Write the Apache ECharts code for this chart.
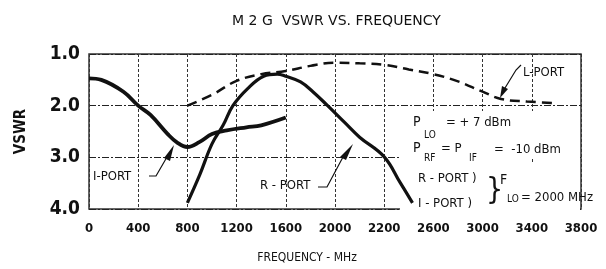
<!DOCTYPE html>
<html>
<head>
<meta charset="utf-8">
<script src="https://cdn.jsdelivr.net/npm/echarts@6/dist/echarts.min.js"></script>
<style>
  html, body { margin: 0; padding: 0; background: #fff; }
  #chart { width: 606px; height: 269px; }
</style>
</head>
<body>
<div id="chart"></div>
<script>
// tick labels as printed on the original (grid steps are 400 MHz)
var xTickLabels = ['0', '400', '800', '1200', '1600', '2000', '2200', '2600', '3000', '3400', '3800'];

// I-PORT (solid)
var iPortMhz  = [0, 100, 280, 400, 500, 640, 720, 800, 900, 1000, 1120, 1280, 1400, 1600];
var iPortVswr = [1.47, 1.5, 1.73, 2.0, 2.18, 2.55, 2.72, 2.8, 2.7, 2.55, 2.48, 2.42, 2.38, 2.23];

// R-PORT (solid)
var rPortMhz  = [800, 900, 1000, 1090, 1170, 1290, 1420, 1530, 1600, 1720, 1820, 1940, 2080, 2200, 2400, 2530, 2630];
var rPortVswr = [3.88, 3.34, 2.74, 2.38, 2.0, 1.67, 1.43, 1.39, 1.43, 1.54, 1.73, 2.0, 2.33, 2.61, 2.99, 3.49, 3.88];

// L-PORT (dashed)
var lPortMhz  = [800, 1000, 1200, 1400, 1600, 1800, 2000, 2200, 2400, 2600, 2800, 3000, 3200, 3350, 3560, 3800];
var lPortVswr = [2.0, 1.79, 1.52, 1.39, 1.33, 1.23, 1.17, 1.18, 1.21, 1.3, 1.39, 1.53, 1.73, 1.87, 1.92, 1.95];

var ink = '#111';
var cond = '"DejaVu Sans Condensed", "DejaVu Sans", sans-serif';

function pairs(xs, ys) {
    return xs.map(function (x, i) { return [x, ys[i]]; });
}

function txt(x, y, s, size, extra) {
    var style = {
        x: x, y: y, text: s,
        font: (extra || '') + ' ' + size + 'px ' + cond,
        fill: ink,
        verticalAlign: 'middle'
    };
    return { type: 'text', z: 100, style: style };
}

var dom = document.getElementById('chart');
var myChart = echarts.init(dom, null, { renderer: 'canvas' });

var option = {
    animation: false,
    backgroundColor: '#fff',
    title: {
        text: 'M 2 G  VSWR VS. FREQUENCY',
        left: 227,
        top: 9,
        textStyle: { fontFamily: 'DejaVu Sans', fontSize: 14, fontWeight: 'normal', color: ink }
    },
    grid: {
        left: 89, right: 25, top: 54, bottom: 55,
        show: true, borderColor: '#333', borderWidth: 1.5
    },
    xAxis: {
        type: 'value',
        min: 0, max: 4000, interval: 400,
        name: 'FREQUENCY - MHz',
        nameLocation: 'middle',
        nameGap: 43,
        nameTextStyle: { fontFamily: cond, fontSize: 12, color: ink, padding: [0, 56, 0, 0] },
        axisLine: { show: false },
        axisTick: { show: false },
        axisLabel: {
            margin: 13,
            fontFamily: cond, fontSize: 13, fontWeight: 'bold', color: ink,
            showMinLabel: true, showMaxLabel: true,
            formatter: function (v) { return xTickLabels[Math.round(v / 400)]; }
        },
        splitLine: { show: true, lineStyle: { color: '#333', width: 1, type: [3, 2] } }
    },
    yAxis: {
        type: 'value',
        inverse: true,
        min: 1, max: 4, interval: 1,
        name: 'VSWR',
        nameLocation: 'middle',
        nameRotate: 90,
        nameGap: 60,
        nameTextStyle: { fontFamily: cond, fontSize: 15, fontWeight: 'bold', color: ink },
        axisLine: { show: false },
        axisTick: { show: false },
        axisLabel: {
            margin: 9,
            fontFamily: cond, fontSize: 19, fontWeight: 'bold', color: ink,
            formatter: function (v) { return v.toFixed(1); }
        },
        splitLine: { show: true, lineStyle: { color: '#222', width: 1, type: [7, 2, 2, 2] } }
    },
    series: [
        {
            name: 'I-PORT', type: 'line', smooth: 0.4, symbol: 'none', z: 3,
            data: pairs(iPortMhz, iPortVswr),
            lineStyle: { color: ink, width: 3.8 }
        },
        {
            name: 'R-PORT', type: 'line', smooth: 0.4, symbol: 'none', z: 3,
            data: pairs(rPortMhz, rPortVswr),
            lineStyle: { color: ink, width: 3.2 }
        },
        {
            name: 'L-PORT', type: 'line', smooth: 0.4, symbol: 'none', z: 3,
            data: pairs(lPortMhz, lPortVswr),
            lineStyle: { color: ink, width: 2.5, type: [10, 6] }
        }
    ],
    graphic: [
        // white patch behind the conditions text
        { type: 'rect', z: 1, shape: { x: 400, y: 111, width: 97, height: 102 }, style: { fill: '#fff' } },
        { type: 'rect', z: 1, shape: { x: 497, y: 111, width: 83, height: 47 }, style: { fill: '#fff' } },
        { type: 'rect', z: 1, shape: { x: 497, y: 162, width: 83, height: 51 }, style: { fill: '#fff' } },

        // curve labels
        txt(93, 177, 'I-PORT', 13),
        txt(260, 186, 'R - PORT', 13),
        txt(523, 73, 'L-PORT', 13),

        // leaders
        { type: 'polyline', z: 100, shape: { points: [[149, 176], [156, 176], [167, 157]] }, style: { stroke: ink, lineWidth: 1.2, fill: null } },
        { type: 'polygon', z: 100, shape: { points: [[164, 158], [170, 161], [174, 145]] }, style: { fill: ink } },
        { type: 'polyline', z: 100, shape: { points: [[318, 187], [327, 187], [343, 157]] }, style: { stroke: ink, lineWidth: 1.2, fill: null } },
        { type: 'polygon', z: 100, shape: { points: [[340, 157], [346, 160], [353, 144]] }, style: { fill: ink } },
        { type: 'polyline', z: 100, shape: { points: [[521, 65], [516, 70], [505, 88]] }, style: { stroke: ink, lineWidth: 1.2, fill: null } },
        { type: 'polygon', z: 100, shape: { points: [[502, 86], [508, 89], [500, 98]] }, style: { fill: ink } },

        // test conditions
        txt(413, 122, 'P', 14),
        txt(424, 135, 'LO', 10),
        txt(446, 123, '= + 7 dBm', 13),
        txt(413, 148, 'P', 14),
        txt(424, 158, 'RF', 10),
        txt(441, 149, '= P', 13),
        txt(469, 158, 'IF', 10),
        txt(494, 150, '=  -10 dBm', 13),
        txt(418, 179, 'R - PORT )', 13),
        txt(418, 204, 'I - PORT )', 13),
        txt(486, 191, '}', 30),
        txt(500, 180, 'F', 14),
        txt(507, 199, 'LO', 10),
        txt(521, 198, '= 2000 MHz', 13)
    ]
};

myChart.setOption(option);
window.addEventListener('resize', myChart.resize);
</script>
</body>
</html>
